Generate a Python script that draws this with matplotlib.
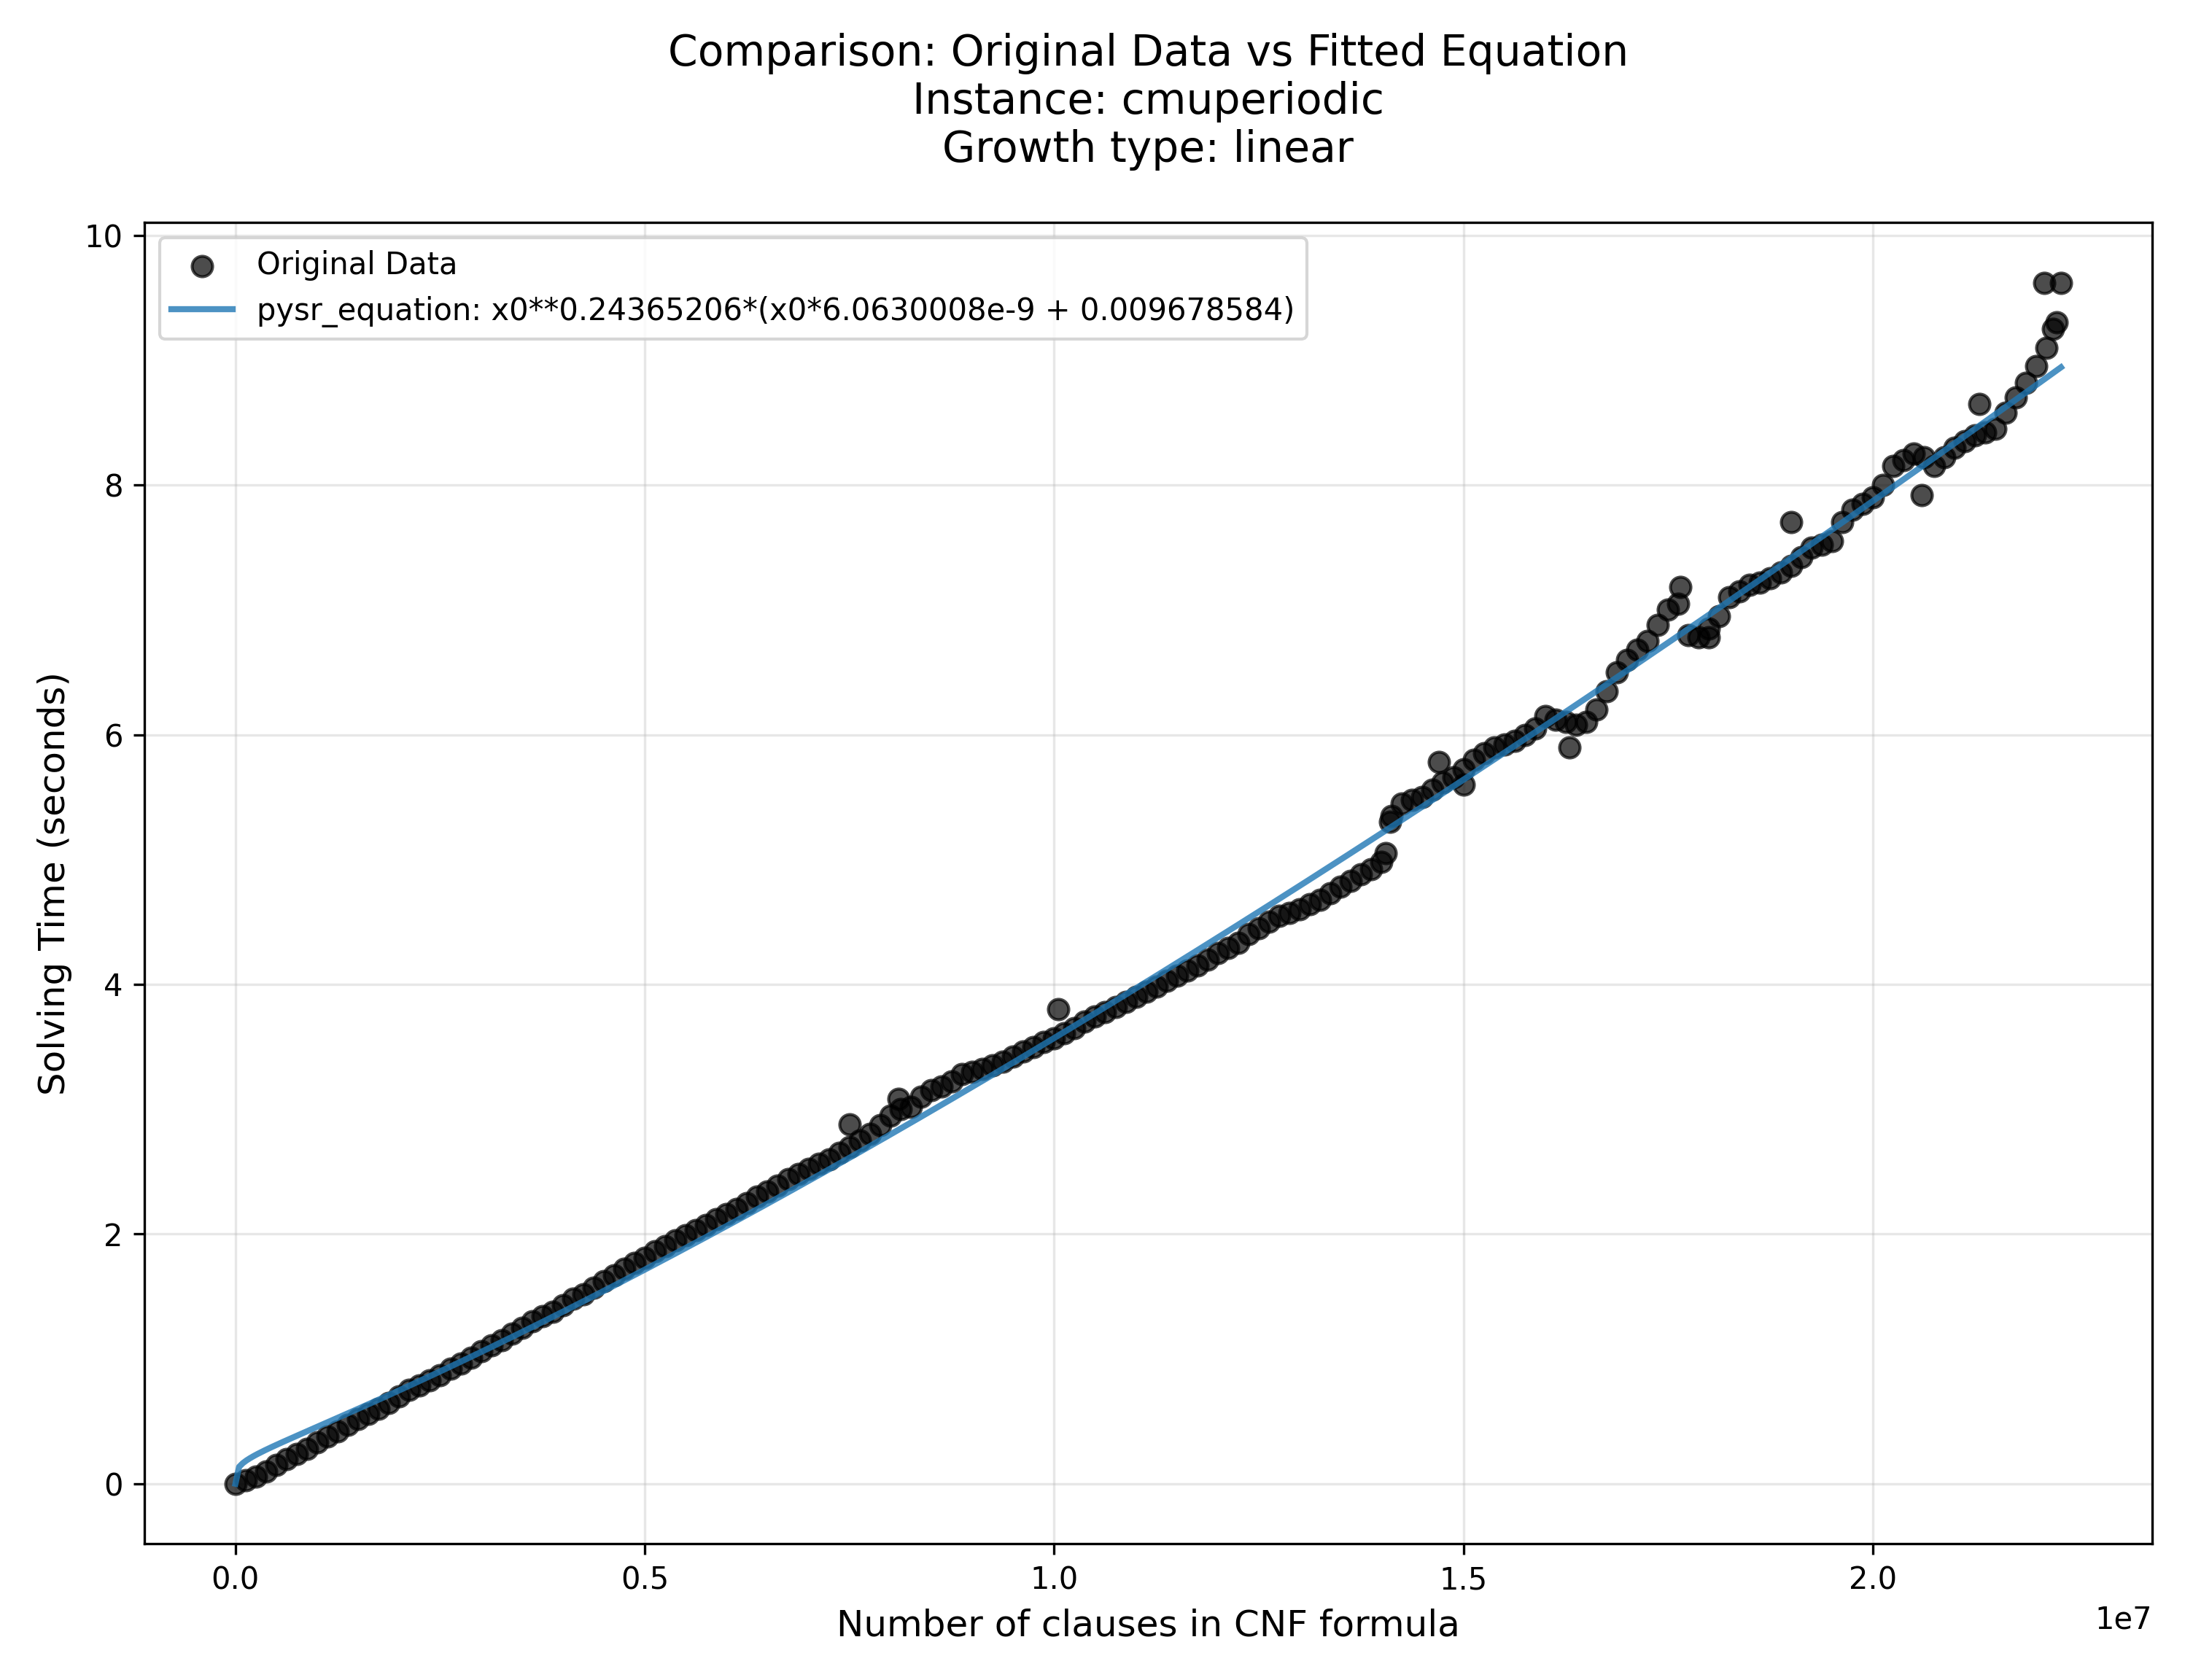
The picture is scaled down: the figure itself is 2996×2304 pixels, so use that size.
import matplotlib

matplotlib.use("Agg")
import matplotlib.pyplot as plt
import numpy as np

# clauses (millions) and solving time (s)
clauses_m = [0.0, 0.25, 0.5, 0.75, 1.0, 1.25, 1.5, 1.75, 2.0, 2.25, 2.5, 2.75, 3.0, 3.25,
             3.5, 3.75, 4.0, 4.25, 4.5, 4.75, 5.0, 5.25, 5.5, 5.75, 6.0, 6.25, 6.5, 6.75,
             7.0, 7.25, 7.5, 7.75, 8.0, 8.25, 8.5, 8.75, 9.0, 9.25, 9.5, 9.75, 10.0, 10.25,
             10.5, 10.75, 11.0, 11.25, 11.5, 11.75, 12.0, 12.25, 12.5, 12.75, 13.0, 13.25,
             13.5, 13.75, 14.0, 14.25, 14.5, 14.75, 15.0, 15.25, 15.5, 15.75, 16.0, 16.25,
             16.5, 16.75, 17.0, 17.25, 17.5, 17.75, 18.0, 18.25, 18.5, 18.75, 19.0, 19.25,
             19.5, 19.75, 20.0, 20.25, 20.5, 20.75, 21.0, 21.25, 21.5, 21.75, 22.0, 22.25,
             7.5, 10.05, 14.1, 16.3, 17.65, 19.0, 20.6, 21.3, 22.1, 22.3, 14.7, 14.05, 22.2,
             8.1, 15.0, 18.0]
times = [0.0, 0.06, 0.15, 0.24, 0.33, 0.42, 0.52, 0.6, 0.7, 0.79, 0.87, 0.96, 1.06, 1.15,
         1.25, 1.34, 1.43, 1.52, 1.62, 1.72, 1.81, 1.9, 1.99, 2.07, 2.16, 2.25, 2.34, 2.44,
         2.52, 2.6, 2.7, 2.8, 2.95, 3.02, 3.15, 3.22, 3.3, 3.35, 3.42, 3.5, 3.57, 3.65,
         3.74, 3.82, 3.9, 3.98, 4.07, 4.15, 4.25, 4.33, 4.45, 4.55, 4.6, 4.68,
         4.78, 4.88, 4.98, 5.45, 5.5, 5.62, 5.72, 5.85, 5.92, 6.0, 6.15, 6.1,
         6.1, 6.35, 6.6, 6.75, 7.0, 6.8, 6.85, 7.1, 7.2, 7.25, 7.35, 7.5,
         7.55, 7.8, 7.9, 8.15, 8.25, 8.15, 8.3, 8.4, 8.45, 8.7, 8.95, 9.3,
         2.88, 3.8, 5.3, 5.9, 7.18, 7.7, 7.92, 8.65, 9.62, 9.62, 5.78, 5.05, 9.25,
         3.08, 5.6, 6.78]

# in-between samples (millions of clauses offset by 0.125)
clauses_mid_m = [0.125, 0.375, 0.625, 0.875, 1.125, 1.375, 1.625, 1.875, 2.125, 2.375,
                 2.625, 2.875, 3.125, 3.375, 3.625, 3.875, 4.125, 4.375, 4.625, 4.875,
                 5.125, 5.375, 5.625, 5.875, 6.125, 6.375, 6.625, 6.875, 7.125, 7.375,
                 7.625, 7.875, 8.125, 8.375, 8.625, 8.875, 9.125, 9.375, 9.625, 9.875,
                 10.125, 10.375, 10.625, 10.875, 11.125, 11.375, 11.625, 11.875, 12.125,
                 12.375, 12.625, 12.875, 13.125, 13.375, 13.625, 13.875, 14.125, 14.375,
                 14.625, 14.875, 15.125, 15.375, 15.625, 15.875, 16.125, 16.375, 16.625,
                 16.875, 17.125, 17.375, 17.625, 17.875, 18.125, 18.375, 18.625, 18.875,
                 19.125, 19.375, 19.625, 19.875, 20.125, 20.375, 20.625, 20.875, 21.125,
                 21.375, 21.625, 21.875, 22.125]
times_mid = [0.03, 0.1, 0.2, 0.28, 0.38, 0.47, 0.56, 0.65, 0.75, 0.83,
             0.92, 1.01, 1.11, 1.2, 1.3, 1.38, 1.48, 1.57, 1.67, 1.77,
             1.86, 1.95, 2.03, 2.12, 2.2, 2.3, 2.39, 2.48, 2.56, 2.65,
             2.75, 2.87, 3.0, 3.1, 3.18, 3.28, 3.32, 3.38, 3.46, 3.54,
             3.61, 3.7, 3.78, 3.86, 3.94, 4.03, 4.11, 4.2, 4.29,
             4.4, 4.5, 4.57, 4.64, 4.73, 4.83, 4.92, 5.35, 5.48,
             5.56, 5.66, 5.8, 5.9, 5.95, 6.05, 6.12, 6.08, 6.2,
             6.5, 6.68, 6.88, 7.05, 6.78, 6.95, 7.15, 7.22, 7.3,
             7.42, 7.52, 7.7, 7.85, 8.0, 8.2, 8.22, 8.22, 8.35,
             8.42, 8.58, 8.82, 9.1]

equation = "x0**0.24365206*(x0*6.0630008e-9 + 0.009678584)"

x = np.array(clauses_m + clauses_mid_m) * 1e6
y = np.array(times + times_mid)
x_fit = np.linspace(0, x.max(), 500)
y_fit = x_fit**0.24365206 * (x_fit * 6.0630008e-9 + 0.009678584)

fig, ax = plt.subplots(figsize=(9.987, 7.68))
ax.scatter(x, y, s=45, color="black", alpha=0.7, label="Original Data", zorder=2)
ax.plot(x_fit, y_fit, color="#1f77b4", alpha=0.8, linewidth=2,
        label=f"pysr_equation: {equation}", zorder=3)
ax.set_xlabel("Number of clauses in CNF formula", fontsize=12)
ax.set_ylabel("Solving Time (seconds)", fontsize=12)
ax.set_title("Comparison: Original Data vs Fitted Equation\nInstance: cmuperiodic\n"
             "Growth type: linear", fontsize=14, pad=20)
ax.grid(True, alpha=0.3)
ax.legend(loc="upper left")
fig.tight_layout()
fig.savefig("out.png", dpi=300)
